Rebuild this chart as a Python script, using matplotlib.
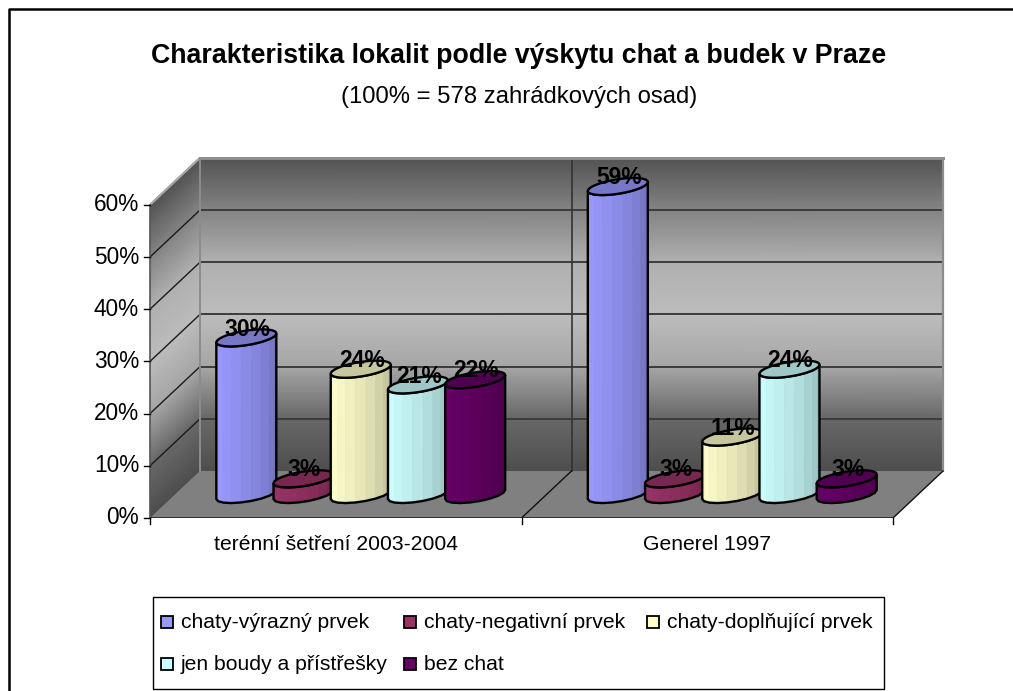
import numpy as np
import matplotlib
matplotlib.use('Agg')
import matplotlib.pyplot as plt
from matplotlib.colors import LinearSegmentedColormap, to_rgb
from matplotlib.patches import Polygon, Rectangle

plt.rcParams['font.family'] = ['Liberation Sans', 'DejaVu Sans']

# data
categories = ['terénní šetření 2003-2004', 'Generel 1997']
series = ['chaty-výrazný prvek', 'chaty-negativní prvek', 'chaty-doplňující prvek',
          'jen boudy a přístřešky', 'bez chat']
colors = ['#9999FF', '#993366', '#FFFFCC', '#CCFFFF', '#660066']
values_teren = [30, 3, 24, 21, 22]
values_generel = [59, 3, 11, 24, 3]
yticks = [0, 10, 20, 30, 40, 50, 60]

W, H = 1013, 691
fig = plt.figure(figsize=(W / 100, H / 100), dpi=100)

# osy: predni rovina grafu, x = kategorie, y = procenta
px_cat = 371.5
px_pct = 5.22
depth_x = 50 / px_cat
depth_y = 47 / px_pct
left, bottom = 150, 518
ax = fig.add_axes([left / W, 1 - bottom / H, (945 - left) / W, (bottom - 157) / H])
ax.set_xlim(0, (945 - left) / px_cat)
ax.set_ylim(0, (bottom - 157) / px_pct)
ax.axis('off')


def pos(x, y, d=0.0):
    return x + d * depth_x, y + d * depth_y


# steny s prechodem
wall = LinearSegmentedColormap.from_list('wall', [
    (0.0, '#4e4e4e'), (1 / 6, '#686868'), (2 / 6, '#a6a6a6'), (3 / 6, '#bcbcbc'),
    (4 / 6, '#b0b0b0'), (5 / 6, '#848484'), (1.0, '#535353')])
ymax = yticks[-1]
gy = np.linspace(0, ymax, 61)
X, Y = np.meshgrid(np.array([0.0, 2.0]), gy)
bx, by = pos(X, Y, 1)
ax.pcolormesh(bx, by, Y / ymax, cmap=wall, shading='gouraud', vmin=0, vmax=1, zorder=1)
D, Y2 = np.meshgrid(np.array([0.0, 1.0]), gy)
lx, ly = pos(0 * D, Y2, D)
ax.pcolormesh(lx, ly, Y2 / ymax, cmap=wall, shading='gouraud', vmin=0, vmax=1, zorder=1)

# podlaha
floor = [pos(0, 0, 0), pos(2, 0, 0), pos(2, 0, 1), pos(0, 0, 1)]
ax.add_patch(Polygon(floor, closed=True, fc='#808080', ec='none', zorder=1.5))

# mrizka
for t in yticks:
    if 0 < t < ymax:
        ax.plot(*zip(pos(0, t, 1), pos(2, t, 1)), color='#3c3c3c', lw=1.4, zorder=2)
    if t > 0:
        ax.plot(*zip(pos(0, t, 0), pos(0, t, 1)), color='#1a1a1a', lw=1.0, zorder=2)
ax.plot(*zip(pos(1, 0, 1), pos(1, ymax, 1)), color='#333333', lw=1.2, zorder=2)
ax.plot(*zip(pos(0, ymax, 1), pos(2, ymax, 1)), color='#8c8c8c', lw=2.2, zorder=2)
ax.plot(*zip(pos(0, ymax, 0), pos(0, ymax, 1)), color='#a8a8a8', lw=1.6, zorder=2)
ax.plot(*zip(pos(2, 0, 1), pos(2, ymax, 1)), color='#8c8c8c', lw=1.6, zorder=2)
ax.plot(*zip(pos(0, 0, 1), pos(0, ymax, 1)), color='#8c8c8c', lw=1.4, zorder=2)
for k in [1, 2]:
    ax.plot(*zip(pos(k, 0, 0), pos(k, 0, 1)), color='#111111', lw=1.0, zorder=2)
ax.plot(*zip(pos(0, 0, 0), pos(2, 0, 0)), color='#222222', lw=1.2, zorder=2)
ax.plot(*zip(pos(0, 0, 0), pos(0, ymax, 0)), color='#555555', lw=1.2, zorder=2, clip_on=False)

# tick marks a popisky os
for t in yticks:
    ax.plot([-6 / px_cat, 0], [t, t], color='black', lw=1.0, clip_on=False, zorder=2)
    ax.text(-11 / px_cat, t, f'{t}%', ha='right', va='center', fontsize=16.3)
for k in range(3):
    ax.plot([k, k], [0, -6 / px_pct], color='black', lw=1.0, clip_on=False, zorder=2)
for k, c in enumerate(categories):
    ax.text(k + 0.5, -27 / px_pct, c, ha='center', va='center', fontsize=15.2)


def shade(col, f):
    return tuple(np.array(to_rgb(col)) * f)


# valcove sloupce
pitch = 0.154
half_w = 30 / px_cat
half_d = 0.155
skew = 4.5 / px_pct
facets = np.linspace(np.pi, 2 * np.pi, 10)
factors = 1.0 - 0.27 * np.linspace(0, 1, len(facets) - 1) ** 1.5


def draw_bar(xc, val, col, z):
    cx, cy = pos(xc, 0, 0.5)
    ex = cx + half_w * np.cos(facets)
    ey = half_d * depth_y * np.sin(facets) + skew * np.cos(facets)
    for j in range(len(facets) - 1):
        quad = [(ex[j], cy + ey[j]), (ex[j + 1], cy + ey[j + 1]),
                (ex[j + 1], cy + ey[j + 1] + val), (ex[j], cy + ey[j] + val)]
        fc = shade(col, factors[j])
        ax.add_patch(Polygon(quad, closed=True, fc=fc, ec=fc, lw=0.5, zorder=z))
    tt = np.linspace(0, 2 * np.pi, 41)
    tx = cx + half_w * np.cos(tt)
    ty = cy + val + half_d * depth_y * np.sin(tt) + skew * np.cos(tt)
    ax.add_patch(Polygon(np.column_stack([tx, ty]), closed=True, fc=shade(col, 0.78),
                         ec='black', lw=1.7, zorder=z + 0.2))
    ox = np.r_[ex, ex[::-1]]
    oy = np.r_[cy + ey, cy + ey[::-1] + val]
    ax.add_patch(Polygon(np.column_stack([ox, oy]), closed=True, fc='none',
                         ec='black', lw=1.7, zorder=z + 0.1))
    return cx, cy + val


labels = []
z = 3
for k, vals in enumerate([values_teren, values_generel]):
    for i, v in enumerate(vals):
        cx, top = draw_bar(k + 0.5 + (i - 2) * pitch, v, colors[i], z)
        z += 1
        labels.append((cx, top, v))
for cx, top, v in labels:
    ax.text(cx + 1 / px_cat, top + 1.7, f'{v}%', ha='center', va='center', fontsize=16.5,
            fontweight='bold', color='black', zorder=50)

# nadpis
fig.text(519 / W, 1 - 56 / H, 'Charakteristika lokalit podle výskytu chat a budek v Praze',
         ha='center', va='center', fontsize=19.3, fontweight='bold')
fig.text(519 / W, 1 - 97 / H, '(100% = 578 zahrádkových osad)',
         ha='center', va='center', fontsize=17.2)

# ramecek grafu - jen horni a levy okraj
fig.add_artist(plt.Line2D([9 / W, 9 / W, 1], [0, 1 - 9 / H, 1 - 9 / H], color='black', lw=1.8))

# legenda rucne, rozlozeni jako v originale
fig.add_artist(Rectangle((153 / W, 1 - 689 / H), (884 - 153) / W, (689 - 597) / H,
                         transform=fig.transFigure, fc='white', ec='black', lw=1.0))
leg_x = [167, 410, 653, 167, 410]
leg_y = [622, 622, 622, 664, 664]
for name, col, x, y in zip(series, colors, leg_x, leg_y):
    fig.add_artist(Rectangle(((x - 6) / W, 1 - (y + 6) / H), 12 / W, 12 / H,
                             transform=fig.transFigure, fc=col, ec='black', lw=1.3))
    fig.text((x + 14) / W, 1 - y / H, name, ha='left', va='center', fontsize=15.2)

fig.savefig('out.png', dpi=100)
